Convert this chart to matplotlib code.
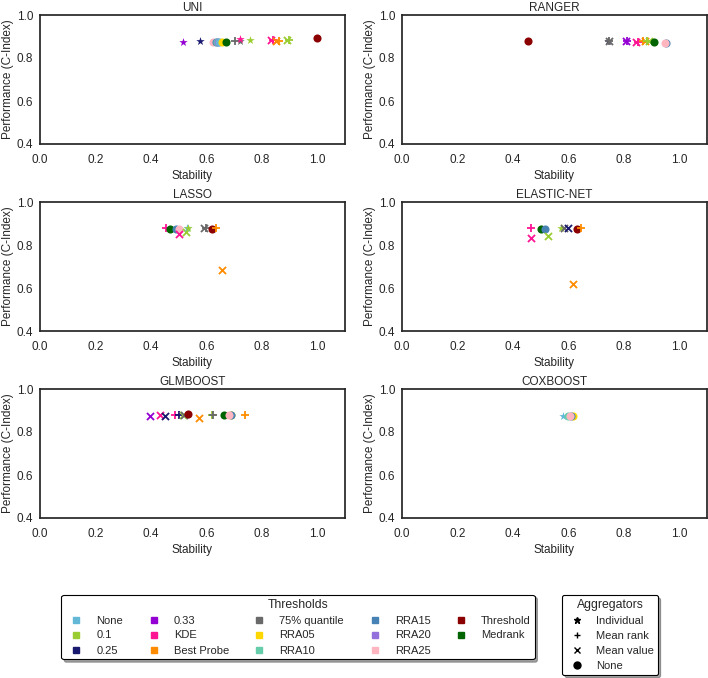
import matplotlib
matplotlib.use("Agg")
import matplotlib.pyplot as plt
import seaborn as sns
from matplotlib.lines import Line2D

sns.set_style("white")
plt.rcParams['font.family'] = ['Liberation Sans', 'DejaVu Sans']

# ---------------- data ----------------
threshold_names = ['None', '0.1', '0.25', '0.33', 'KDE', 'Best Probe', '75% quantile',
                   'RRA05', 'RRA10', 'RRA15', 'RRA20', 'RRA25', 'Threshold', 'Medrank']
threshold_colors = ['#63B8D8', '#9ACD32', '#191970', '#9400D3', '#FF1493', '#FF8C00', '#696969',
                    '#FFD700', '#66CDAA', '#4682B4', '#9370DB', '#FFB6C1', '#8B0000', '#006400']
aggregator_names = ['Individual', 'Mean rank', 'Mean value', 'None']
aggregator_markers = ['*', '+', 'x', 'o']

uni_thr = ['0.33', '0.25', 'RRA25', 'RRA15', 'RRA10', 'RRA20', 'None', 'RRA05', 'Medrank',
           '75% quantile', '75% quantile', 'KDE', '0.1', 'KDE', 'KDE', 'Best Probe', 'Best Probe',
           '0.1', '0.1', 'Threshold']
uni_agg = ['Individual', 'Individual', 'None', 'None', 'None', 'None', 'None', 'None', 'None',
           'Mean rank', 'Individual', 'Individual', 'Individual', 'Mean value', 'Mean rank',
           'Mean value', 'Mean rank', 'Mean value', 'Mean rank', 'None']
uni_stab = [0.515, 0.577, 0.625, 0.633, 0.638, 0.642, 0.645, 0.655, 0.670, 0.702, 0.722, 0.722,
            0.756, 0.832, 0.840, 0.852, 0.862, 0.892, 0.897, 0.999]
uni_perf = [0.876, 0.877, 0.873, 0.873, 0.873, 0.873, 0.873, 0.873, 0.873, 0.877, 0.880, 0.887,
            0.882, 0.882, 0.882, 0.880, 0.880, 0.882, 0.882, 0.894]

ranger_thr = ['Threshold', '0.25', '75% quantile', '75% quantile', '0.33', '0.33', 'KDE', 'KDE',
              'Best Probe', 'Best Probe', '0.1', '0.1', 'Medrank', 'RRA15', 'RRA25']
ranger_agg = ['None', 'Individual', 'Mean value', 'Mean rank', 'Mean value', 'Mean rank',
              'Mean value', 'Mean rank', 'Mean rank', 'Mean value', 'Mean rank', 'Mean value',
              'None', 'None', 'None']
ranger_stab = [0.455, 0.742, 0.745, 0.748, 0.808, 0.812, 0.845, 0.850, 0.868, 0.876, 0.885, 0.890,
               0.908, 0.952, 0.947]
ranger_perf = [0.878, 0.877, 0.877, 0.877, 0.877, 0.877, 0.874, 0.874, 0.879, 0.879, 0.880, 0.880,
               0.873, 0.871, 0.871]

lasso_thr = ['KDE', 'Medrank', 'RRA15', 'RRA25', 'KDE', '0.1', 'None', '0.1', '75% quantile',
             '75% quantile', 'Threshold', 'Best Probe', 'Best Probe']
lasso_agg = ['Mean rank', 'None', 'None', 'None', 'Mean value', 'Mean value', 'Individual',
             'Individual', 'Mean value', 'Mean rank', 'None', 'Mean rank', 'Mean value']
lasso_stab = [0.455, 0.470, 0.490, 0.500, 0.500, 0.525, 0.530, 0.535, 0.590, 0.600, 0.620, 0.635,
              0.656]
lasso_perf = [0.879, 0.876, 0.876, 0.876, 0.852, 0.860, 0.878, 0.880, 0.880, 0.880, 0.876, 0.880,
              0.684]

enet_thr = ['KDE', 'KDE', 'Medrank', 'RRA15', '0.1', '0.1', '75% quantile', '0.25', 'Threshold',
            'Best Probe', 'Best Probe']
enet_agg = ['Mean rank', 'Mean value', 'None', 'None', 'Mean value', 'Individual', 'Mean value',
            'Mean value', 'None', 'Mean rank', 'Mean value']
enet_stab = [0.465, 0.465, 0.500, 0.515, 0.525, 0.575, 0.585, 0.600, 0.630, 0.645, 0.617]
enet_perf = [0.877, 0.831, 0.874, 0.875, 0.842, 0.878, 0.877, 0.877, 0.874, 0.880, 0.619]

glm_thr = ['0.33', 'KDE', '0.25', 'KDE', '0.25', '0.1', '75% quantile', 'Threshold', 'Best Probe',
           '0.1', '75% quantile', 'Medrank', 'RRA05', 'RRA15', 'RRA25', 'Best Probe']
glm_agg = ['Mean value', 'Mean value', 'Mean value', 'Mean rank', 'Mean rank', 'Mean value',
           'Mean value', 'None', 'Mean value', 'Mean rank', 'Mean rank', 'None', 'None', 'None',
           'None', 'Mean rank']
glm_stab = [0.395, 0.434, 0.452, 0.487, 0.500, 0.515, 0.520, 0.532, 0.575, 0.620, 0.625, 0.664,
            0.690, 0.688, 0.683, 0.738]
glm_perf = [0.876, 0.877, 0.876, 0.877, 0.877, 0.878, 0.878, 0.882, 0.865, 0.878, 0.878, 0.880,
            0.880, 0.880, 0.880, 0.880]

cox_thr = ['None', 'RRA10', 'RRA05', 'RRA15', 'RRA25']
cox_agg = ['Individual', 'None', 'None', 'None', 'None']
cox_stab = [0.580, 0.600, 0.615, 0.610, 0.605]
cox_perf = [0.874, 0.874, 0.874, 0.874, 0.874]

panels = [
    ('UNI', uni_thr, uni_agg, uni_stab, uni_perf),
    ('RANGER', ranger_thr, ranger_agg, ranger_stab, ranger_perf),
    ('LASSO', lasso_thr, lasso_agg, lasso_stab, lasso_perf),
    ('ELASTIC-NET', enet_thr, enet_agg, enet_stab, enet_perf),
    ('GLMBOOST', glm_thr, glm_agg, glm_stab, glm_perf),
    ('COXBOOST', cox_thr, cox_agg, cox_stab, cox_perf),
]

x_ticks = [0.0, 0.2, 0.4, 0.6, 0.8, 1.0]
y_ticks = [0.4, 0.6, 0.8, 1.0]

# ---------------- figure ----------------
W, H = 708, 678
fig = plt.figure(figsize=(W / 100, H / 100), dpi=100)

col_x = [(40, 345), (402, 707)]
row_y = [(15, 144), (202, 331), (389, 518)]

color_of = dict(zip(threshold_names, threshold_colors))
marker_of = dict(zip(aggregator_names, aggregator_markers))
size_of = {'*': 40, '+': 34, 'x': 26, 'o': 34}

for i, (title, thr, agg, stab, perf) in enumerate(panels):
    r, c = divmod(i, 2)
    x0, x1 = col_x[c]
    y0, y1 = row_y[r]
    ax = fig.add_axes([x0 / W, 1 - y1 / H, (x1 - x0) / W, (y1 - y0) / H])
    for t, a, s, p in zip(thr, agg, stab, perf):
        m = marker_of[a]
        kw = dict(marker=m, color=color_of[t], s=size_of[m], zorder=3)
        if m in ('+', 'x'):
            kw['linewidths'] = 1.3
        else:
            kw['linewidths'] = 0
        ax.scatter([s], [p], **kw)
    ax.set_xlim(0, 1.1)
    ax.set_ylim(0.4, 1.0)
    ax.set_xticks(x_ticks)
    ax.set_yticks(y_ticks)
    ax.tick_params(axis='x', labelsize=8.5, colors='.15', length=0, pad=7)
    ax.tick_params(axis='y', labelsize=8.5, colors='.15', length=0, pad=5)
    ax.set_xlabel('Stability', fontsize=8.5, color='.15', labelpad=3)
    ax.set_ylabel('Performance (C-Index)', fontsize=8.5, color='.15', labelpad=2)
    ax.set_title(title, fontsize=8.5, color='.15', pad=3)
    for sp in ax.spines.values():
        sp.set_color('.15')
        sp.set_linewidth(1.25)

# ---------------- legends ----------------
thr_handles = [Line2D([], [], linestyle='none', marker='s', markersize=5,
                      markerfacecolor=col, markeredgecolor=col, label=name)
               for name, col in zip(threshold_names, threshold_colors)]
leg1 = fig.legend(handles=thr_handles, title='Thresholds', ncol=5, loc='center',
                  bbox_to_anchor=(298 / W, 1 - 627 / H), fontsize=8, title_fontsize=8.8,
                  frameon=True, fancybox=True, shadow=True, edgecolor='black',
                  handlelength=2.0, handletextpad=0.8, columnspacing=1.75,
                  labelspacing=0.45, borderpad=0.35)
leg1.get_frame().set_linewidth(0.8)

agg_handles = [Line2D([], [], linestyle='none', marker=m, markersize=5,
                      color='black', markeredgewidth=1.0, label=name)
               for name, m in zip(aggregator_names, aggregator_markers)]
leg2 = fig.legend(handles=agg_handles, title='Aggregators', ncol=1, loc='center',
                  bbox_to_anchor=(610 / W, 1 - 635 / H), fontsize=8, title_fontsize=8.8,
                  frameon=True, fancybox=True, shadow=True, edgecolor='black',
                  handlelength=2.0, handletextpad=0.7, labelspacing=0.45, borderpad=0.35)
leg2.get_frame().set_linewidth(0.8)

fig.savefig('out.png', dpi=100, facecolor='white')
